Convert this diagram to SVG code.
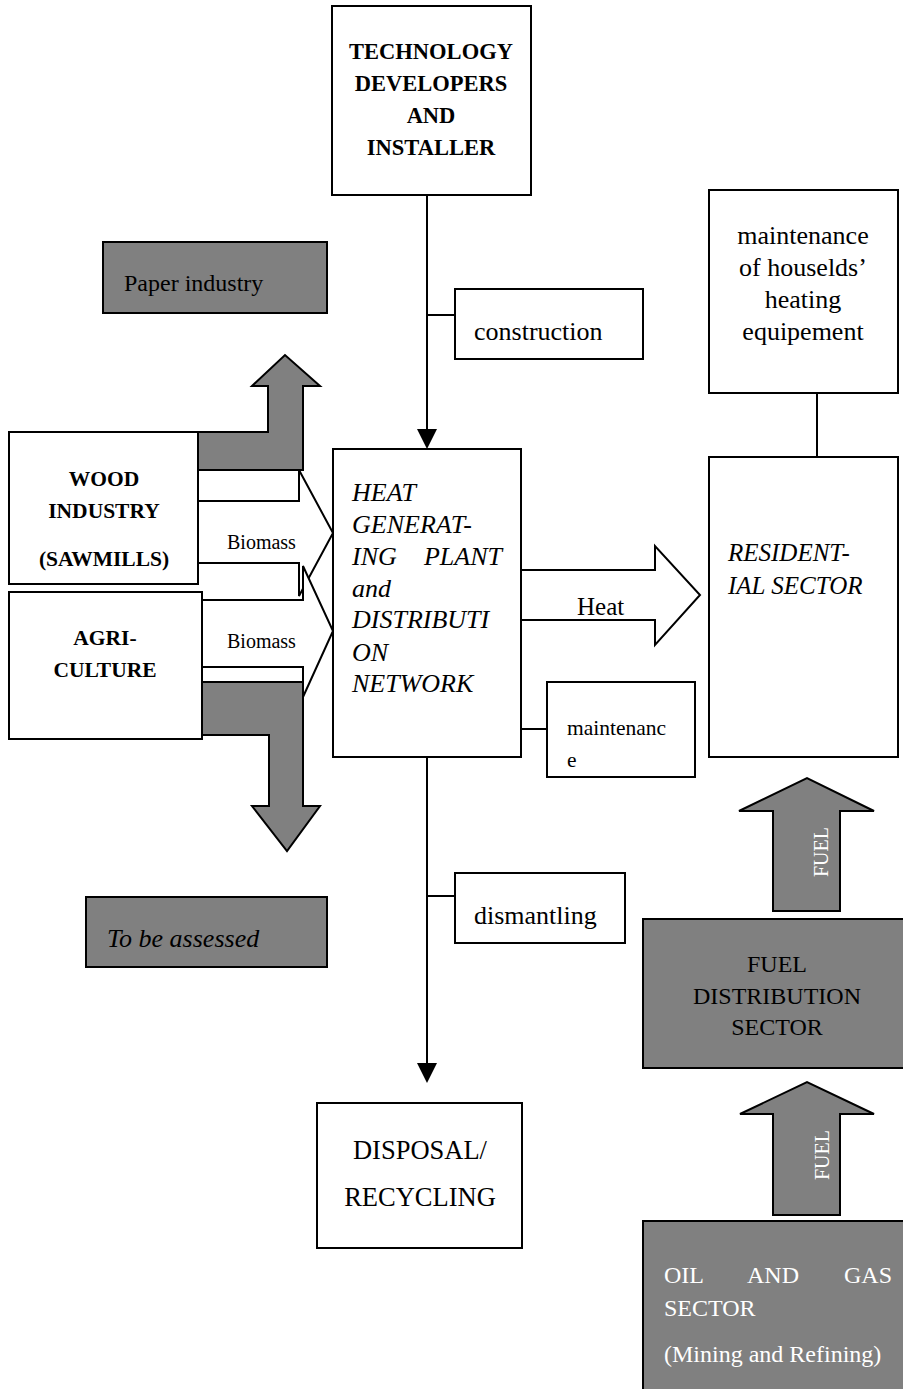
<svg xmlns="http://www.w3.org/2000/svg" width="903" height="1389" viewBox="0 0 903 1389" font-family="'Liberation Serif', 'DejaVu Serif', serif">
  <style>
    .box { fill: #ffffff; stroke: #000000; stroke-width: 2; }
    .gbox { fill: #808080; stroke: #000000; stroke-width: 2; }
    .line { fill: none; stroke: #000000; stroke-width: 2; }
    .blk { fill: #ffffff; stroke: #000000; stroke-width: 2; stroke-linejoin: miter; }
    .gblk { fill: #808080; stroke: #000000; stroke-width: 2; stroke-linejoin: miter; }
    text { font-family: 'Liberation Serif', 'DejaVu Serif', serif; fill: #000000; }
    .r { font-size: 24px; }
    .l { font-size: 26px; }
    .b { font-size: 21.5px; font-weight: bold; }
    .bt { font-size: 22.5px; font-weight: bold; }
    .i { font-size: 26px; font-style: italic; }
    .s { font-size: 20px; }
    .w { fill: #ffffff; }
    .mid { text-anchor: middle; }
  </style>

  <!-- connectors: plain lines and block arrows -->
  <g id="connectors">
    <line class="line" x1="427" y1="195" x2="427" y2="430"/>
    <path d="M417,429 L437,429 L427,449 Z" fill="#000000"/>
    <line class="line" x1="427" y1="315" x2="455" y2="315"/>
    <line class="line" x1="427" y1="757" x2="427" y2="1064"/>
    <path d="M417,1063 L437,1063 L427,1083 Z" fill="#000000"/>
    <line class="line" x1="427" y1="896" x2="455" y2="896"/>
    <line class="line" x1="521" y1="729" x2="562" y2="729"/>
    <line class="line" x1="817" y1="393" x2="817" y2="457"/>

    <!-- Biomass block arrows -->
    <polygon class="blk" points="198,501 299,501 299,470 333,533 299,596 299,563 198,563"/>
    <polygon class="blk" points="202,600 303,600 303,566 333,631 303,697 303,667 202,667"/>
    <text class="s" x="227" y="549">Biomass</text>
    <text class="s" x="227" y="648">Biomass</text>

    <!-- side flows (grey) -->
    <polygon class="gblk" points="198,432 268,432 268,386 252,386 285,355 320,386 303,386 303,470 198,470"/>
    <polygon class="gblk" points="202,682 303,682 303,806 320,806 287,851 252,806 269,806 269,735 202,735"/>

    <!-- Heat arrow -->
    <polygon class="blk" points="521,570 655,570 655,546 700,595 655,645 655,620 521,620"/>
    <text x="577" y="615" style="font-size:25px">Heat</text>

    <!-- Fuel arrows -->
    <polygon class="gblk" points="773,911 773,811 739,811 807,778 874,811 840,811 840,911"/>
    <text class="s w mid" transform="translate(828,852) rotate(-90)">FUEL</text>
    <polygon class="gblk" points="773,1215 773,1114 740,1114 807,1082 874,1114 840,1114 840,1215"/>
    <text class="s w mid" transform="translate(829,1155) rotate(-90)">FUEL</text>
  </g>

  <g id="technology">
    <rect class="box" x="332" y="6" width="199" height="189"/>
    <text class="bt mid" x="431" y="59">TECHNOLOGY</text>
    <text class="bt mid" x="431" y="91">DEVELOPERS</text>
    <text class="bt mid" x="431" y="123">AND</text>
    <text class="bt mid" x="431" y="155">INSTALLER</text>
  </g>

  <g id="paper-industry">
    <rect class="gbox" x="103" y="242" width="224" height="71"/>
    <text class="r" x="124" y="291">Paper industry</text>
  </g>

  <g id="construction">
    <rect class="box" x="455" y="289" width="188" height="70"/>
    <text class="l" x="474" y="340">construction</text>
  </g>

  <g id="household-maintenance">
    <rect class="box" x="709" y="190" width="189" height="203"/>
    <text class="l mid" x="803" y="244">maintenance</text>
    <text class="l mid" x="803" y="276">of houselds’</text>
    <text class="l mid" x="803" y="308">heating</text>
    <text class="l mid" x="803" y="340">equipement</text>
  </g>

  <g id="wood-industry">
    <rect class="box" x="9" y="432" width="189" height="152"/>
    <text class="b mid" x="104" y="486">WOOD</text>
    <text class="b mid" x="104" y="518">INDUSTRY</text>
    <text class="b mid" x="104" y="566">(SAWMILLS)</text>
  </g>

  <g id="agriculture">
    <rect class="box" x="9" y="592" width="193" height="147"/>
    <text class="b mid" x="105" y="645">AGRI-</text>
    <text class="b mid" x="105" y="677">CULTURE</text>
  </g>

  <g id="heat-plant">
    <rect class="box" x="333" y="449" width="188" height="308"/>
    <text class="i" x="352" y="501">HEAT</text>
    <text class="i" x="352" y="533">GENERAT-</text>
    <text class="i" x="352" y="565">ING</text>
    <text class="i" x="502" y="565" text-anchor="end">PLANT</text>
    <text class="i" x="352" y="597">and</text>
    <text class="i" x="352" y="628">DISTRIBUTI</text>
    <text class="i" x="352" y="661">ON</text>
    <text class="i" x="352" y="692">NETWORK</text>
  </g>

  <g id="residential">
    <rect class="box" x="709" y="457" width="189" height="300"/>
    <text class="i" x="728" y="561" style="font-size:25px">RESIDENT-</text>
    <text class="i" x="728" y="594" style="font-size:25px">IAL SECTOR</text>
  </g>

  <g id="plant-maintenance">
    <rect class="box" x="547" y="682" width="148" height="95"/>
    <text x="567" y="735" style="font-size:21.5px">maintenanc</text>
    <text x="567" y="767" style="font-size:21.5px">e</text>
  </g>

  <g id="to-be-assessed">
    <rect class="gbox" x="86" y="897" width="241" height="70"/>
    <text class="l" x="107" y="947" font-style="italic">To be assessed</text>
  </g>

  <g id="dismantling">
    <rect class="box" x="455" y="873" width="170" height="70"/>
    <text class="l" x="474" y="924">dismantling</text>
  </g>

  <g id="disposal">
    <rect class="box" x="317" y="1103" width="205" height="145"/>
    <text class="mid" x="420" y="1159" style="font-size:26.5px">DISPOSAL/</text>
    <text class="mid" x="420" y="1206" style="font-size:26.5px">RECYCLING</text>
  </g>

  <g id="fuel-distribution">
    <rect class="gbox" x="643" y="919" width="270" height="149"/>
    <text class="r mid" x="777" y="972">FUEL</text>
    <text class="r mid" x="777" y="1004">DISTRIBUTION</text>
    <text class="r mid" x="777" y="1035">SECTOR</text>
  </g>

  <g id="oil-gas">
    <rect class="gbox" x="643" y="1221" width="270" height="178"/>
    <text class="r w" x="664" y="1283">OIL</text>
    <text class="r w mid" x="773" y="1283">AND</text>
    <text class="r w" x="892" y="1283" text-anchor="end">GAS</text>
    <text class="r w" x="664" y="1316">SECTOR</text>
    <text class="r w" x="664" y="1362">(Mining and Refining)</text>
  </g>
</svg>
